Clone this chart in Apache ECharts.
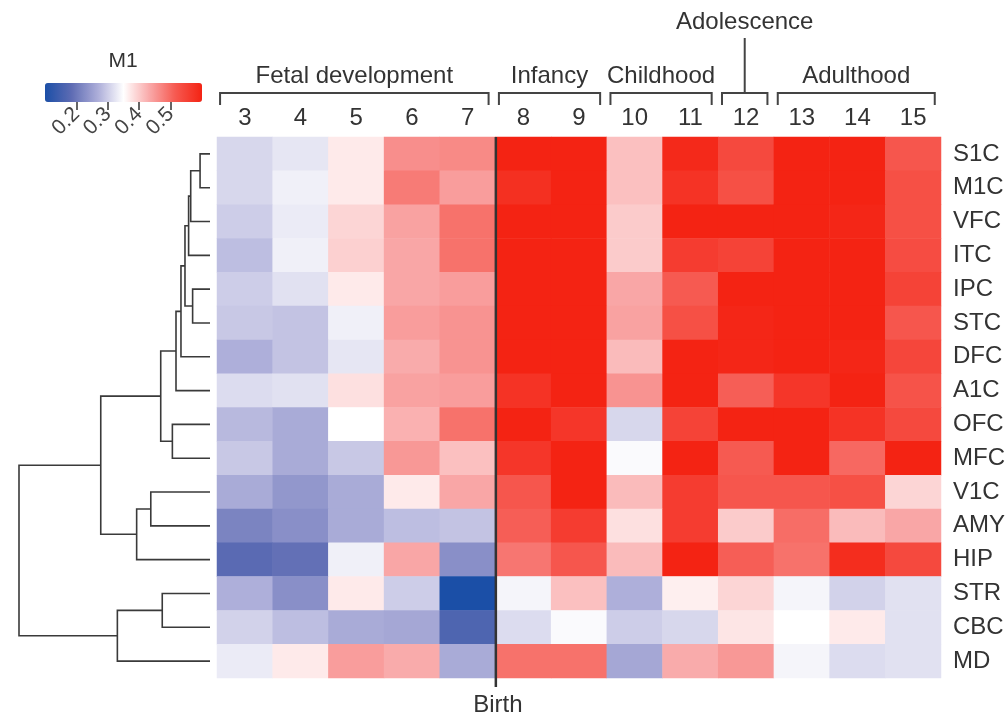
<!DOCTYPE html>
<html>
<head>
<meta charset="utf-8">
<script src="https://cdn.jsdelivr.net/npm/echarts@6/dist/echarts.min.js"></script>
<style>html,body{margin:0;padding:0;background:#fff}#c{width:1008px;height:717px}</style>
</head>
<body>
<div id="c"></div>
<script>
// ---------- data ----------
const ages = ['3','4','5','6','7','8','9','10','11','12','13','14','15'];
const regions = ['S1C','M1C','VFC','ITC','IPC','STC','DFC','A1C','OFC','MFC','V1C','AMY','HIP','STR','CBC','MD'];

const S1C = [0.31,0.325,0.37,0.46,0.465,0.60,0.60,0.41,0.59,0.54,0.60,0.60,0.52];
const M1C = [0.31,0.335,0.37,0.48,0.445,0.58,0.60,0.41,0.575,0.53,0.60,0.60,0.53];
const VFC = [0.30,0.33,0.39,0.44,0.49,0.60,0.60,0.40,0.60,0.60,0.60,0.595,0.53];
const ITC = [0.285,0.335,0.395,0.435,0.49,0.60,0.60,0.40,0.56,0.55,0.60,0.60,0.535];
const IPC = [0.30,0.32,0.37,0.435,0.445,0.60,0.60,0.435,0.515,0.60,0.60,0.60,0.55];
const STC = [0.295,0.29,0.335,0.445,0.455,0.60,0.60,0.44,0.53,0.595,0.60,0.60,0.52];
const DFC = [0.27,0.29,0.325,0.43,0.455,0.60,0.60,0.415,0.60,0.595,0.60,0.595,0.545];
const A1C = [0.315,0.32,0.38,0.44,0.445,0.575,0.60,0.455,0.60,0.51,0.57,0.60,0.525];
const OFC = [0.28,0.265,0.35,0.425,0.49,0.60,0.57,0.31,0.55,0.60,0.60,0.575,0.54];
const MFC = [0.295,0.265,0.295,0.45,0.41,0.57,0.60,0.345,0.60,0.515,0.60,0.50,0.60];
const V1C = [0.265,0.24,0.265,0.37,0.435,0.52,0.60,0.415,0.56,0.52,0.52,0.53,0.39];
const AMY = [0.215,0.23,0.265,0.285,0.29,0.51,0.56,0.38,0.56,0.40,0.495,0.415,0.435];
const HIP = [0.18,0.19,0.335,0.435,0.23,0.485,0.52,0.415,0.60,0.51,0.49,0.585,0.54];
const STR = [0.27,0.23,0.37,0.30,0.10,0.34,0.41,0.27,0.365,0.39,0.34,0.305,0.32];
const CBC = [0.305,0.285,0.265,0.26,0.165,0.315,0.345,0.30,0.31,0.375,0.35,0.37,0.32];
const MD  = [0.33,0.37,0.445,0.43,0.265,0.49,0.49,0.26,0.43,0.45,0.34,0.315,0.32];
const rows = [S1C,M1C,VFC,ITC,IPC,STC,DFC,A1C,OFC,MFC,V1C,AMY,HIP,STR,CBC,MD];

// developmental stages (first age, last age)
const stageNames = ['Fetal development','Infancy','Childhood','Adolescence','Adulthood'];
const stageFirst = ['3','8','10','12','13'];
const stageLast  = ['7','9','11','12','15'];
const birthAfter = '7';

// colour scale
const colorMin = 0.1, colorMax = 0.6;
const legendTicks = [0.2, 0.3, 0.4, 0.5];
const legendTitle = 'M1';

// dendrogram merges: nodes 0..15 are regions, merge k creates node 16+k
const mergeA = [0, 16, 17, 4, 18, 20, 21, 8, 22, 10, 25, 24, 13, 28, 27];
const mergeB = [1, 2, 3, 5, 19, 6, 7, 9, 23, 11, 12, 26, 14, 15, 29];
const mergeH = [0.052,0.101,0.112,0.091,0.131,0.152,0.178,0.197,0.258,0.310,0.384,0.572,0.250,0.485,1.0];

// ---------- derived ----------
const heatData = [];
rows.forEach((r, yi) => r.forEach((v, xi) => heatData.push([xi, yi, v])));

const nodeY = regions.map((_, i) => i);
const nodeH = regions.map(() => 0);
const dendroData = [];
mergeA.forEach((a, k) => {
  const b = mergeB[k];
  const y = (nodeY[a] + nodeY[b]) / 2;
  nodeY.push(y); nodeH.push(mergeH[k]);
  dendroData.push([mergeH[k], nodeY[a], nodeY[b], nodeH[a], nodeH[b]]);
});

const stageData = stageNames.map((n, i) => [ages.indexOf(stageFirst[i]), ages.indexOf(stageLast[i]), i]);
const birthData = [[ages.indexOf(birthAfter) + 0.5]];

const FONT = '"Liberation Sans", Arial, Helvetica, sans-serif';
const TXT = '#333';
const FS = 24;

const chart = echarts.init(document.getElementById('c'));
chart.setOption({
  animation: false,
  textStyle: { fontFamily: FONT },
  title: {
    text: legendTitle, left: 123, top: 51, textAlign: 'center', padding: 0,
    textStyle: { fontSize: 21, fontWeight: 'normal', color: TXT, fontFamily: FONT }
  },
  grid: [
    { left: 217, top: 137, width: 725, height: 541 },
    { left: 217, top: 137, width: 725, height: 541 },
    { left: 45, top: 83, width: 157, height: 19 },
    { left: 19, top: 137, width: 191, height: 541 }
  ],
  xAxis: [
    { type: 'category', data: ages, gridIndex: 0, position: 'top',
      axisLine: { show: false }, axisTick: { show: false }, splitLine: { show: false },
      axisLabel: { fontSize: FS, color: TXT, margin: 7, fontFamily: FONT } },
    { type: 'value', gridIndex: 1, min: -0.5, max: 12.5, show: false },
    { type: 'value', gridIndex: 2, min: colorMin, max: colorMax, position: 'bottom',
      axisLine: { show: false }, splitLine: { show: false },
      axisTick: { show: true, customValues: legendTicks, length: 8, lineStyle: { color: '#333', width: 1.5 } },
      axisLabel: { customValues: legendTicks, rotate: 45, fontSize: 21, color: '#444', margin: 9, fontFamily: FONT } },
    { type: 'value', gridIndex: 3, min: 0, max: 1, inverse: true, show: false }
  ],
  yAxis: [
    { type: 'category', data: regions, gridIndex: 0, inverse: true, position: 'right',
      axisLine: { show: false }, axisTick: { show: false }, splitLine: { show: false },
      axisLabel: { fontSize: FS, color: TXT, margin: 12, align: 'left', fontFamily: FONT } },
    { type: 'value', gridIndex: 1, min: -0.5, max: 15.5, inverse: true, show: false },
    { type: 'value', gridIndex: 2, min: 0, max: 1, show: false },
    { type: 'value', gridIndex: 3, min: -0.5, max: 15.5, inverse: true, show: false }
  ],
  visualMap: {
    type: 'continuous', min: colorMin, max: colorMax, seriesIndex: 0,
    orient: 'horizontal', left: 45, top: 83, itemWidth: 19, itemHeight: 157,
    padding: 0, calculable: false, hoverLink: false, showLabel: false,
    inRange: { color: ['#1b4fa7','#5d6bb3','#abacd8','#ffffff','#f9a8a8','#f6584f','#f42313'] }
  },
  series: [
    { type: 'heatmap', xAxisIndex: 0, yAxisIndex: 0, data: heatData,
      emphasis: { disabled: true }, itemStyle: { borderWidth: 0 } },
    { type: 'custom', xAxisIndex: 3, yAxisIndex: 3, data: dendroData, z: 3, silent: true,
      renderItem: function (params, api) {
        const h = api.value(0), y1 = api.value(1), y2 = api.value(2), h1 = api.value(3), h2 = api.value(4);
        const p1 = api.coord([h1, y1]), p2 = api.coord([h, y1]), p3 = api.coord([h, y2]), p4 = api.coord([h2, y2]);
        return { type: 'polyline', shape: { points: [p1, p2, p3, p4] },
          style: { stroke: '#3a3a3a', lineWidth: 1.6, fill: null } };
      } },
    { type: 'custom', xAxisIndex: 1, yAxisIndex: 1, data: stageData, z: 3, silent: true,
      renderItem: function (params, api) {
        const s = api.value(0), e = api.value(1), idx = api.value(2);
        const top = api.coord([0, -0.5])[1];
        const x0 = api.coord([s - 0.445, 0])[0];
        const x1 = api.coord([e + 0.37, 0])[0];
        const yb = top - 44, yt = top - 32;
        const cx = (x0 + x1) / 2;
        const single = s === e;
        const children = [{ type: 'polyline', shape: { points: [[x0, yt], [x0, yb], [x1, yb], [x1, yt]] },
          style: { stroke: '#444', lineWidth: 2, fill: null } }];
        if (single) {
          children.push({ type: 'line', shape: { x1: cx, y1: yb, x2: cx, y2: top - 99 },
            style: { stroke: '#444', lineWidth: 2 } });
        }
        children.push({ type: 'text', x: cx, y: single ? top - 115 : top - 61,
          style: { text: stageNames[idx], fontSize: FS, fontFamily: FONT, fill: TXT, align: 'center', verticalAlign: 'middle' } });
        return { type: 'group', children: children };
      } },
    { type: 'custom', xAxisIndex: 1, yAxisIndex: 1, data: birthData, z: 4, silent: true,
      renderItem: function (params, api) {
        const x = api.coord([api.value(0), 0])[0];
        const top = api.coord([0, -0.5])[1], bottom = api.coord([0, 15.5])[1];
        return { type: 'group', children: [
          { type: 'line', shape: { x1: x, y1: top, x2: x, y2: bottom + 9 }, style: { stroke: '#333', lineWidth: 2.5 } },
          { type: 'text', x: x + 2, y: bottom + 27,
            style: { text: 'Birth', fontSize: FS, fontFamily: FONT, fill: TXT, align: 'center', verticalAlign: 'middle' } }
        ] };
      } },
    { type: 'scatter', xAxisIndex: 2, yAxisIndex: 2, data: [], silent: true }
  ]
});
</script>
</body>
</html>
